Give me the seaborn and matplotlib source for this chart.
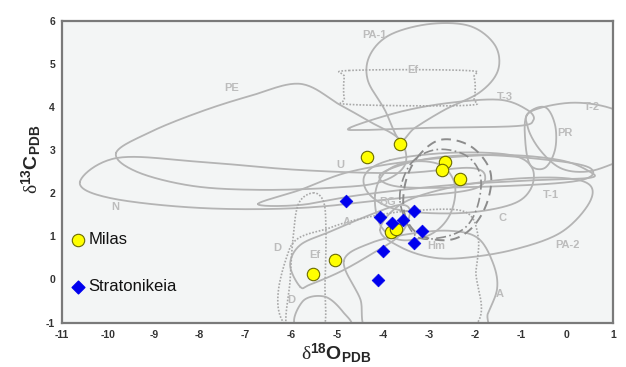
import numpy as np
import pandas as pd
import matplotlib
matplotlib.use("Agg")
import matplotlib.pyplot as plt
import seaborn as sns

# Sample isotope values (per mil, PDB)
milas_d18O = [-3.64, -4.36, -2.66, -2.73, -2.33, -3.84, -3.72, -5.05, -5.54]
milas_d13C = [3.15, 2.84, 2.72, 2.54, 2.33, 1.10, 1.17, 0.45, 0.12]
strat_d18O = [-4.82, -4.07, -3.82, -3.58, -3.33, -3.16, -3.34, -4.01, -4.12]
strat_d13C = [1.82, 1.45, 1.32, 1.39, 1.59, 1.13, 0.85, 0.67, -0.01]

x_ticks = list(range(-11, 2))
y_ticks = list(range(-1, 7))

# Reference marble fields: outline vertices (d18O, d13C)
field_PE = [(-9.82, 2.94), (-9.08, 3.42), (-7.99, 3.89), (-6.90, 4.26), (-5.81, 4.54),
            (-4.94, 4.05), (-4.29, 3.66), (-3.64, 3.24), (-3.53, 2.66), (-4.07, 2.26),
            (-5.10, 2.13), (-6.69, 2.08), (-8.15, 2.17), (-9.37, 2.50)]
field_N = [(-10.61, 2.26), (-9.80, 2.82), (-7.99, 2.73), (-5.81, 2.54), (-3.64, 2.47),
           (-2.11, 2.59), (-1.78, 2.36), (-2.11, 2.08), (-3.64, 1.89), (-5.81, 1.66),
           (-7.99, 1.66), (-9.95, 1.89)]
field_U = [(-6.73, 1.75), (-5.81, 2.08), (-4.73, 2.50), (-3.20, 2.77), (-1.46, 2.89),
           (-0.15, 2.77), (0.50, 2.50), (0.50, 2.36), (-0.59, 2.31), (-2.55, 2.19),
           (-4.51, 1.96), (-5.81, 1.73)]
field_PA1 = [(-3.64, 3.24), (-3.97, 3.94), (-4.34, 4.63), (-4.29, 5.21), (-3.85, 5.68),
             (-2.98, 5.93), (-2.11, 5.88), (-1.57, 5.44), (-1.50, 4.86), (-1.89, 4.35),
             (-2.66, 3.94), (-3.31, 3.52)]
field_Ef_upper = [(-4.75, 4.85), (-2.20, 4.85), (-2.02, 4.70), (-2.02, 4.20), (-2.20, 4.04),
                  (-4.70, 4.06), (-4.85, 4.20), (-4.85, 4.70)]
field_T3 = [(-4.73, 3.52), (-3.64, 3.89), (-2.55, 4.10), (-1.46, 4.17), (-0.87, 3.94),
            (-0.73, 3.70), (-1.10, 3.56), (-2.98, 3.52), (-4.40, 3.47)]
field_T2 = [(-0.80, 3.89), (0.07, 4.10), (0.94, 3.98), (1.59, 3.59), (1.59, 3.01),
            (0.94, 2.66), (0.39, 2.50), (-0.15, 2.59), (-0.59, 3.01), (-0.85, 3.52)]
field_PR = [(-0.87, 3.82), (-0.48, 4.00), (-0.26, 3.59), (-0.26, 3.01), (-0.48, 2.59),
            (-0.80, 2.66), (-0.91, 3.24)]
field_T1 = [(-4.07, 2.43), (-3.20, 2.77), (-1.89, 2.89), (-0.37, 2.77), (0.46, 2.61),
            (0.50, 2.38), (-0.15, 2.24), (-1.89, 2.15), (-3.64, 2.15)]
field_C = [(-3.85, 2.77), (-2.55, 2.94), (-1.24, 2.89), (-0.76, 2.59), (-0.80, 2.08),
           (-1.24, 1.73), (-2.33, 1.54), (-3.64, 1.61), (-4.29, 1.96), (-4.40, 2.43)]
field_PA2 = [(-4.07, 1.15), (-3.64, 0.76), (-2.98, 0.52), (-2.26, 0.50), (-1.17, 0.69),
             (-0.15, 1.08), (0.46, 1.73), (0.50, 2.19), (-0.15, 2.36), (-1.46, 2.31),
             (-2.76, 2.08), (-3.64, 1.73)]
field_BG = [(-4.18, 1.96), (-3.96, 2.49), (-3.42, 2.73), (-2.76, 2.66), (-2.44, 2.19),
            (-2.55, 1.50), (-2.98, 1.04), (-3.64, 0.92), (-4.07, 1.27)]
field_A = [(-4.86, 0.43), (-4.29, 0.84), (-3.42, 1.06), (-2.55, 1.13), (-1.94, 0.96),
           (-1.61, 0.38), (-1.52, -0.20), (-1.72, -0.78), (-1.94, -1.30), (-4.18, -1.30),
           (-4.51, -0.43)]
field_A_dotted = [(-6.05, 0.69), (-5.16, 1.20), (-4.18, 1.48), (-3.20, 1.61), (-2.22, 1.57),
                  (-1.94, 1.03), (-1.98, 0.22), (-2.22, -1.20), (-5.95, -1.20)]
field_Ef_lower = [(-5.81, -0.17), (-6.03, 0.34), (-5.81, 0.80), (-5.16, 1.11), (-4.29, 1.50),
                  (-3.64, 1.73), (-3.42, 1.57), (-3.64, 1.03), (-4.29, 0.57), (-4.94, 0.18),
                  (-5.60, -0.12)]
field_D = [(-5.53, 2.01), (-5.30, 1.80), (-5.25, 1.11), (-5.27, -0.06), (-5.33, -1.20),
           (-6.08, -1.20), (-6.03, -0.01), (-5.97, 0.92), (-5.85, 1.75)]
field_D_lower = [(-5.88, -1.10), (-5.75, -0.50), (-5.27, -0.40), (-4.88, -0.75), (-4.75, -1.10)]
field_dashed = [(-3.27, 2.82), (-2.76, 3.24), (-2.11, 3.10), (-1.68, 2.54), (-1.72, 1.85),
                (-2.05, 1.22), (-2.55, 0.92), (-3.20, 1.03), (-3.53, 1.50), (-3.53, 2.19)]
field_dashdot = [(-3.64, 1.85), (-3.42, 2.66), (-2.87, 3.01), (-2.22, 2.89), (-1.89, 2.43),
                 (-1.94, 1.73), (-2.22, 1.20), (-2.76, 0.97), (-3.31, 1.03)]

field_label_text = ["PA-1", "Ef", "T-3", "T-2", "PR", "PE", "U", "N", "BG", "A", "C",
                    "T-1", "PA-2", "D", "Ef", "D", "Hm", "A"]
field_label_x = [-4.20, -3.35, -1.35, 0.55, -0.05, -7.30, -4.94, -9.85, -3.90, -4.79,
                 -1.40, -0.35, 0.02, -6.30, -5.50, -6.00, -2.85, -1.46]
field_label_y = [5.67, 4.86, 4.24, 4.00, 3.40, 4.45, 2.66, 1.68, 1.80, 1.34,
                 1.43, 1.96, 0.80, 0.73, 0.57, -0.47, 0.78, -0.33]


def closed_curve(points, n=24):
    """Closed Catmull-Rom curve through the outline vertices."""
    p = np.asarray(points, dtype=float)
    m = len(p)
    t = np.linspace(0, 1, n, endpoint=False)[:, None]
    segs = []
    for i in range(m):
        p0, p1, p2, p3 = p[i - 1], p[i], p[(i + 1) % m], p[(i + 2) % m]
        segs.append(0.5 * (2 * p1 + (-p0 + p2) * t
                           + (2 * p0 - 5 * p1 + 4 * p2 - p3) * t ** 2
                           + (-p0 + 3 * p1 - 3 * p2 + p3) * t ** 3))
    c = np.vstack(segs + [segs[0][:1]])
    return c[:, 0], c[:, 1]


sns.set_theme(style="white")
plt.rcParams["font.family"] = ["Liberation Sans", "DejaVu Sans"]
plt.rcParams["axes.unicode_minus"] = False
plt.rcParams["mathtext.fontset"] = "custom"
plt.rcParams["mathtext.rm"] = "Liberation Serif"
plt.rcParams["mathtext.bf"] = "Liberation Sans:bold"
plt.rcParams["mathtext.it"] = "Liberation Serif:italic"

fig = plt.figure(figsize=(6.26, 3.67), dpi=100)
ax = fig.add_axes([0.099, 0.121, 0.880, 0.822])
ax.set_facecolor("#f3f5f5")

line_grey = "#b4b4b4"
solid_fields = [field_PE, field_N, field_U, field_PA1, field_T3, field_T2, field_PR,
                field_T1, field_C, field_PA2, field_BG, field_A, field_Ef_lower]
for f in solid_fields:
    cx, cy = closed_curve(f)
    ax.plot(cx, cy, color=line_grey, lw=1.3, zorder=2)
for f in [field_Ef_upper, field_D, field_A_dotted]:
    cx, cy = closed_curve(f)
    ax.plot(cx, cy, color="#a8a8a8", lw=1.2, ls=(0, (1, 1)), zorder=2)
cx, cy = closed_curve(field_D_lower)
ax.plot(cx, cy, color=line_grey, lw=1.3, zorder=2)
cx, cy = closed_curve(field_dashed)
ax.plot(cx, cy, color="#8c8c8c", lw=1.4, ls=(0, (5, 3)), zorder=2)
cx, cy = closed_curve(field_dashdot)
ax.plot(cx, cy, color="#8c8c8c", lw=1.2, ls=(0, (6, 2, 1, 2)), zorder=2)

for t, x, y in zip(field_label_text, field_label_x, field_label_y):
    ax.text(x, y, t, color="#bcbcbc", fontsize=8, fontweight="bold",
            ha="center", va="center", zorder=3)

milas = pd.DataFrame({"d18O": milas_d18O, "d13C": milas_d13C})
strat = pd.DataFrame({"d18O": strat_d18O, "d13C": strat_d13C})
sns.scatterplot(data=milas, x="d18O", y="d13C", ax=ax, marker="o", s=80,
                color="#ffff00", edgecolor="#6b6b00", linewidth=0.8, zorder=5)
sns.scatterplot(data=strat, x="d18O", y="d13C", ax=ax, marker="D", s=42,
                color="#0000ee", edgecolor="#0000ee", linewidth=0.5, zorder=6)

# in-plot legend
ax.scatter([-10.65], [0.92], marker="o", s=80, color="#ffff00",
           edgecolor="#6b6b00", linewidth=0.8, zorder=6)
ax.text(-10.42, 0.92, "Milas", fontsize=12, va="center", ha="left", color="#111111")
ax.scatter([-10.65], [-0.17], marker="D", s=42, color="#0000ee", zorder=6)
ax.text(-10.42, -0.17, "Stratonikeia", fontsize=12, va="center", ha="left", color="#111111")

ax.set_xlim(-11, 1)
ax.set_ylim(-1, 6)
ax.set_xticks(x_ticks)
ax.set_yticks(y_ticks)
ax.tick_params(axis="both", direction="out", length=3, width=1, color="#555555",
               labelsize=7.5, labelcolor="#333333", pad=2)
for lab in ax.get_xticklabels() + ax.get_yticklabels():
    lab.set_fontweight("bold")
for s in ax.spines.values():
    s.set_color("#7a7a7a")
    s.set_linewidth(1.6)

ax.set_xlabel(r"$\mathrm{\delta}^{\mathbf{18}}\mathbf{O}_{\mathbf{PDB}}$", fontsize=14)
ax.set_ylabel(r"$\mathrm{\delta}^{\mathbf{13}}\mathbf{C}_{\mathbf{PDB}}$", fontsize=14)
ax.xaxis.set_label_coords(0.497, -0.06)
ax.yaxis.set_label_coords(-0.035, 0.54)

fig.savefig("out.png", dpi=100)
